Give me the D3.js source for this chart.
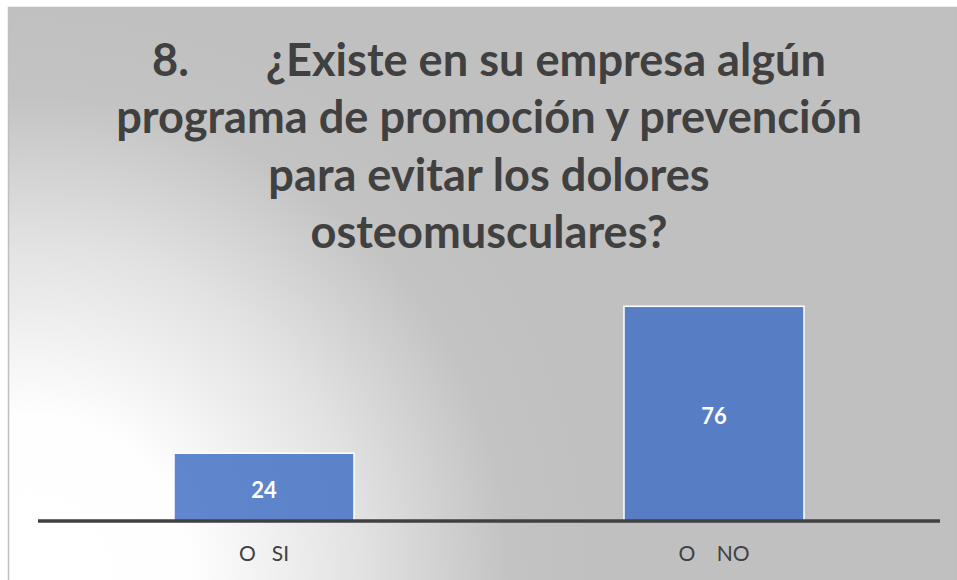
<!DOCTYPE html>
<html>
<head>
<meta charset="utf-8">
<script src="https://cdn.jsdelivr.net/npm/d3@7/dist/d3.min.js"></script>
<style>
  html, body { margin: 0; padding: 0; background: #ffffff; }
  svg { display: block; }
</style>
</head>
<body>
<script>
// Survey answers for question 8
const categories = ["O   SI", "O    NO"];
const values = [24, 76];
const titleNumber = "8.";
const titleLines = [
  "¿Existe en su empresa algún",
  "programa de promoción y prevención",
  "para evitar los dolores",
  "osteomusculares?"
];

const W = 957, H = 580;
const FONT = "Lato, 'Open Sans', 'Noto Sans', sans-serif";

const svg = d3.select("body").append("svg")
  .attr("width", W).attr("height", H);

// Chart area background: radial fade from white (bottom-left) to grey
const defs = svg.append("defs");
const grad = defs.append("radialGradient")
  .attr("id", "bgGrad")
  .attr("gradientUnits", "userSpaceOnUse")
  .attr("cx", 30).attr("cy", 575).attr("r", 570);
[[0, "#ffffff"], [0.28, "#fefefe"], [0.58, "#e2e2e2"], [0.84, "#c3c3c3"], [1, "#c0c0c0"]]
  .forEach(([o, c]) => grad.append("stop").attr("offset", o).attr("stop-color", c));

svg.append("rect")
  .attr("x", 8.5).attr("y", 7.5)
  .attr("width", W - 9).attr("height", H)
  .attr("fill", "url(#bgGrad)")
  .attr("stroke", "#bfbfbf").attr("stroke-width", 1.5);

// Title
const titleCx = 489;
const baselines = [76, 133, 191, 248];
const title = svg.append("g")
  .attr("font-family", FONT)
  .attr("font-weight", 700)
  .attr("fill", "#404040");

// size the title so the widest line spans ~746px
const probe = title.append("text").attr("font-size", 100).text(titleLines[1]);
const probeW = probe.node().getComputedTextLength();
probe.remove();
const titleSize = 100 * 746 / probeW;
title.attr("font-size", titleSize);

// first line: number, tab gap, then question start
title.append("text")
  .attr("x", 152).attr("y", baselines[0])
  .text(titleNumber);
title.append("text")
  .attr("x", 826).attr("y", baselines[0])
  .attr("text-anchor", "end")
  .text(titleLines[0]);
titleLines.slice(1).forEach((t, i) => {
  title.append("text")
    .attr("x", titleCx).attr("y", baselines[i + 1])
    .attr("text-anchor", "middle")
    .text(t);
});

// Scales
const x = d3.scaleBand()
  .domain(categories)
  .range([39, 939])
  .paddingInner(0.6)
  .paddingOuter(0.3);
const y = d3.scaleLinear()
  .domain([0, 80])
  .range([521, 295]);

// Bars
const data = categories.map((c, i) => ({ c, v: values[i] }));
svg.append("g").selectAll("rect")
  .data(data).join("rect")
  .attr("x", d => x(d.c))
  .attr("y", d => y(d.v))
  .attr("width", x.bandwidth())
  .attr("height", d => y(0) - y(d.v))
  .attr("fill", "#4472c4")
  .attr("fill-opacity", 0.85)
  .attr("stroke", "#ffffff")
  .attr("stroke-width", 1.5);

// Value labels inside bars
svg.append("g").selectAll("text")
  .data(data).join("text")
  .attr("x", d => x(d.c) + x.bandwidth() / 2)
  .attr("y", d => (y(d.v) + y(0)) / 2 + 10.5)
  .attr("text-anchor", "middle")
  .attr("font-family", FONT)
  .attr("font-weight", 700)
  .attr("font-size", 22)
  .attr("fill", "#ffffff")
  .text(d => d.v);

// Category axis
const xAxis = svg.append("g")
  .attr("transform", `translate(0,${y(0)})`)
  .call(d3.axisBottom(x).tickSize(0).tickPadding(25));
xAxis.select(".domain")
  .attr("d", "M38,0H940")
  .attr("stroke", "#404040")
  .attr("stroke-width", 3.5);
xAxis.selectAll(".tick text")
  .attr("font-family", FONT)
  .attr("font-size", 21)
  .attr("fill", "#404040")
  .style("white-space", "pre");
</script>
</body>
</html>
